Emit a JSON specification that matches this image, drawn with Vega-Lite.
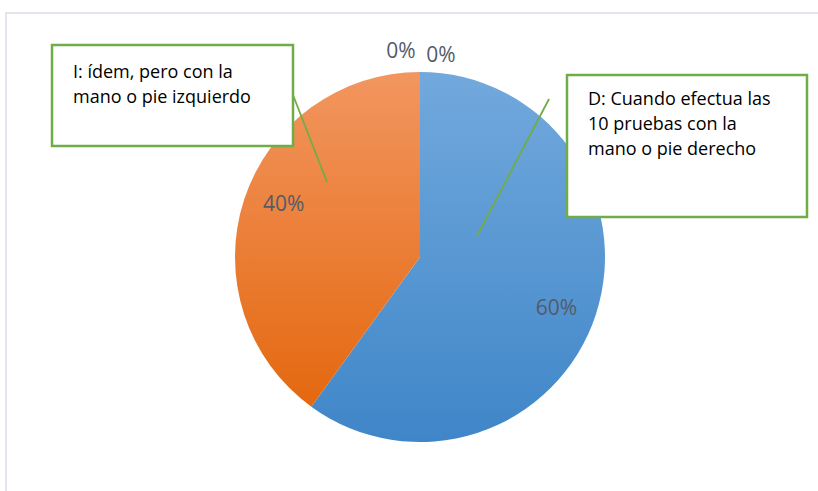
{
  "$schema": "https://vega.github.io/schema/vega-lite/v6.json",
  "width": 796,
  "height": 468,
  "padding": {"left": 22, "top": 23, "right": 0, "bottom": 0},
  "autosize": {"type": "none"},
  "background": "white",
  "config": {"view": {"stroke": null}},
  "data": {"values": [
    {"cat": "D", "value": 60, "ord": 1, "label": "60%"},
    {"cat": "I", "value": 40, "ord": 2, "label": "40%"},
    {"cat": "X", "value": 0, "ord": 3, "label": "0%"},
    {"cat": "Y", "value": 0, "ord": 4, "label": "0%"}
  ]},
  "layer": [
    {
      "data": {"values": [{}]},
      "mark": {"type": "rect", "fill": null, "stroke": "#D9DDE6", "strokeWidth": 1.5, "clip": false},
      "encoding": {
        "x": {"datum": 6, "type": "quantitative", "scale": {"domain": [22, 818], "nice": false, "zero": false}, "axis": null},
        "x2": {"datum": 900},
        "y": {"datum": 13, "type": "quantitative", "scale": {"domain": [491, 23], "nice": false, "zero": false}, "axis": null},
        "y2": {"datum": 600}
      }
    },
    {
      "mark": {"type": "arc", "outerRadius": 185},
      "encoding": {
        "theta": {"field": "value", "type": "quantitative", "stack": true},
        "order": {"field": "ord", "type": "quantitative"},
        "detail": {"field": "cat", "type": "nominal"},
        "fill": {
          "condition": {"test": "datum.cat === 'I'", "value": {"gradient": "linear", "x1": 0, "y1": 0, "x2": 0, "y2": 1, "stops": [{"offset": 0, "color": "#F29660"}, {"offset": 1, "color": "#E4680F"}]}},
          "value": {"gradient": "linear", "x1": 0, "y1": 0, "x2": 0, "y2": 1, "stops": [{"offset": 0, "color": "#72A9DD"}, {"offset": 1, "color": "#3F86C8"}]}
        }
      }
    },
    {
      "transform": [{"filter": "datum.value > 0"}],
      "mark": {"type": "text", "radius": 146, "thetaOffset": 0.05, "font": "Open Sans", "fontSize": 21, "fill": "#535B69", "align": "center", "baseline": "middle"},
      "encoding": {
        "theta": {"field": "value", "type": "quantitative", "stack": true},
        "order": {"field": "ord", "type": "quantitative"},
        "detail": {"field": "cat", "type": "nominal"},
        "text": {"field": "label"}
      }
    },
    {
      "data": {"values": [{}]},
      "mark": {"type": "text", "text": "0%", "font": "Open Sans", "fontSize": 21, "fill": "#535B69", "align": "center", "baseline": "middle"},
      "encoding": {
        "x": {"datum": 401, "type": "quantitative", "scale": {"domain": [22, 818], "nice": false, "zero": false}, "axis": null},
        "y": {"datum": 52, "type": "quantitative", "scale": {"domain": [491, 23], "nice": false, "zero": false}, "axis": null}
      }
    },
    {
      "data": {"values": [{}]},
      "mark": {"type": "text", "text": "0%", "font": "Open Sans", "fontSize": 21, "fill": "#535B69", "align": "center", "baseline": "middle"},
      "encoding": {
        "x": {"datum": 441, "type": "quantitative", "scale": {"domain": [22, 818], "nice": false, "zero": false}, "axis": null},
        "y": {"datum": 56, "type": "quantitative", "scale": {"domain": [491, 23], "nice": false, "zero": false}, "axis": null}
      }
    },
    {
      "data": {"values": [{}]},
      "mark": {"type": "rule", "stroke": "#70AD47", "strokeWidth": 1.8},
      "encoding": {
        "x": {"datum": 293, "type": "quantitative", "scale": {"domain": [22, 818], "nice": false, "zero": false}, "axis": null},
        "y": {"datum": 95, "type": "quantitative", "scale": {"domain": [491, 23], "nice": false, "zero": false}, "axis": null},
        "x2": {"datum": 327},
        "y2": {"datum": 182}
      }
    },
    {
      "data": {"values": [{}]},
      "mark": {"type": "rule", "stroke": "#70AD47", "strokeWidth": 1.8},
      "encoding": {
        "x": {"datum": 549, "type": "quantitative", "scale": {"domain": [22, 818], "nice": false, "zero": false}, "axis": null},
        "y": {"datum": 99, "type": "quantitative", "scale": {"domain": [491, 23], "nice": false, "zero": false}, "axis": null},
        "x2": {"datum": 477},
        "y2": {"datum": 236}
      }
    },
    {
      "data": {"values": [{}]},
      "mark": {"type": "rect", "fill": "white", "stroke": "#70AD47", "strokeWidth": 2.5},
      "encoding": {
        "x": {"datum": 52, "type": "quantitative", "scale": {"domain": [22, 818], "nice": false, "zero": false}, "axis": null},
        "x2": {"datum": 293},
        "y": {"datum": 45, "type": "quantitative", "scale": {"domain": [491, 23], "nice": false, "zero": false}, "axis": null},
        "y2": {"datum": 146}
      }
    },
    {
      "data": {"values": [{}]},
      "mark": {"type": "rect", "fill": "white", "stroke": "#70AD47", "strokeWidth": 2.5},
      "encoding": {
        "x": {"datum": 567, "type": "quantitative", "scale": {"domain": [22, 818], "nice": false, "zero": false}, "axis": null},
        "x2": {"datum": 807},
        "y": {"datum": 75, "type": "quantitative", "scale": {"domain": [491, 23], "nice": false, "zero": false}, "axis": null},
        "y2": {"datum": 217}
      }
    },
    {
      "data": {"values": [{}]},
      "mark": {"type": "text", "text": ["I: ídem, pero con la", "mano o pie izquierdo"], "font": "Open Sans", "fontSize": 18, "lineHeight": 25, "fill": "#000000", "align": "left", "baseline": "alphabetic"},
      "encoding": {
        "x": {"datum": 73, "type": "quantitative", "scale": {"domain": [22, 818], "nice": false, "zero": false}, "axis": null},
        "y": {"datum": 78, "type": "quantitative", "scale": {"domain": [491, 23], "nice": false, "zero": false}, "axis": null}
      }
    },
    {
      "data": {"values": [{}]},
      "mark": {"type": "text", "text": ["D: Cuando efectua las", "10 pruebas con la", "mano o pie derecho"], "font": "Open Sans", "fontSize": 18, "lineHeight": 25, "fill": "#000000", "align": "left", "baseline": "alphabetic"},
      "encoding": {
        "x": {"datum": 588, "type": "quantitative", "scale": {"domain": [22, 818], "nice": false, "zero": false}, "axis": null},
        "y": {"datum": 105, "type": "quantitative", "scale": {"domain": [491, 23], "nice": false, "zero": false}, "axis": null}
      }
    }
  ]
}
